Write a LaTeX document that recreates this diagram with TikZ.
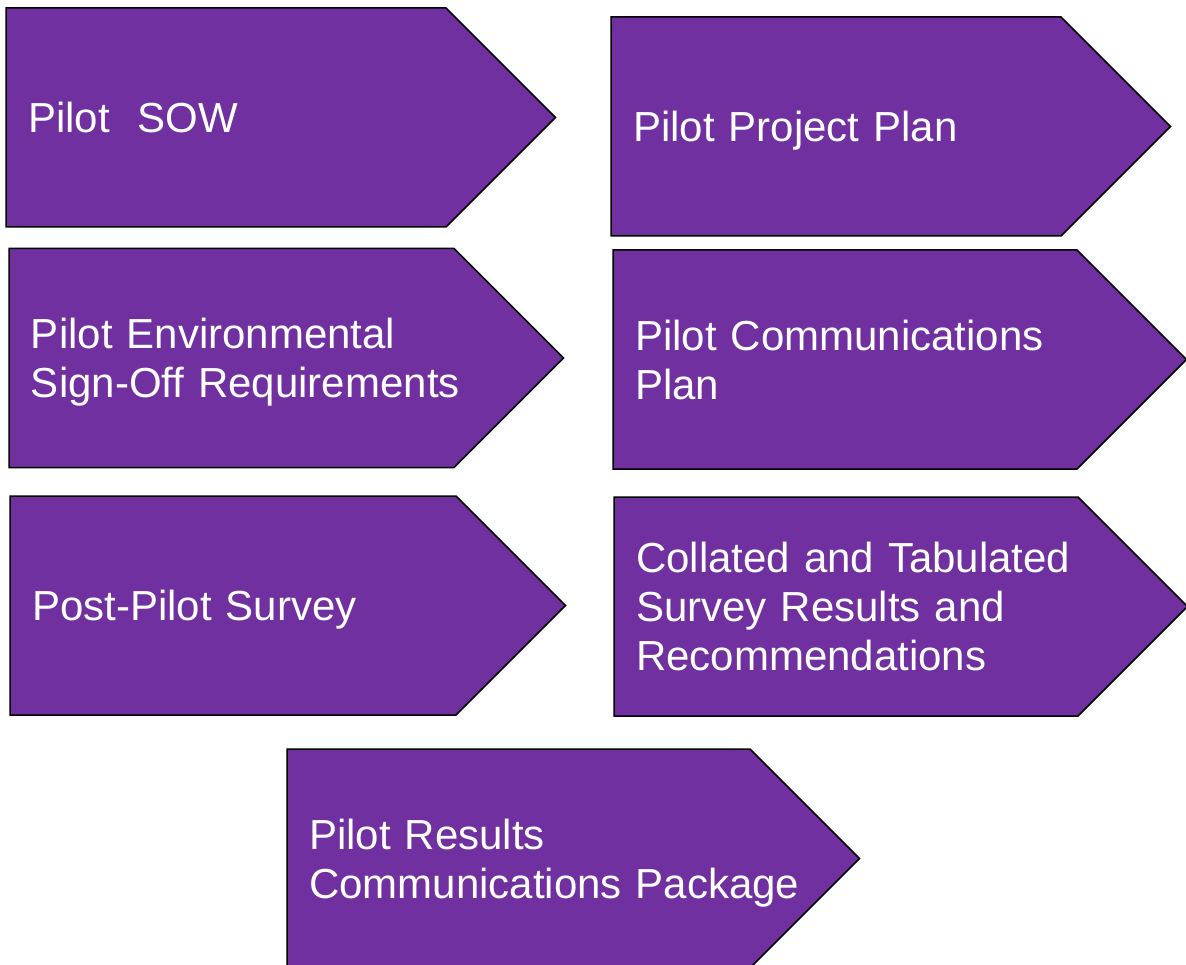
\documentclass[tikz,border=0pt]{standalone}
\usepackage{fontspec}
\setmainfont{Liberation Sans}
\usetikzlibrary{shapes.symbols}

\definecolor{pilotpurple}{HTML}{7030A0}

\tikzset{
deliverable/.style={signal, signal to=east, signal pointer angle=90,
  draw=black, line width=1.5pt, fill=pilotpurple, text=white,
  font=\fontsize{42}{49}\selectfont, align=left,
  inner xsep=0pt, inner ysep=0pt, minimum height=219pt, text width=#1,
  execute at begin node={\leftskip=22pt\rightskip=0pt plus 1fil minus 300pt},
  execute at end node={\par\kern-\prevdepth}}
}

\begin{document}
\begin{tikzpicture}[x=1pt,y=-1pt]
\useasboundingbox (0,0) rectangle (1186,965);

\node[deliverable=440pt] (sow) at (226,117.5) {Pilot~~SOW};
\node[deliverable=450pt] (projplan) at (836,126.5) {Pilot Project Plan};

\node[deliverable=445pt] (envreq) at (231.5,358) {Pilot Environmental\\Sign-Off Requirements};
\node[deliverable=464pt] (commplan) at (845,359.5) {Pilot Communications\\Plan};

\node[deliverable=446pt] (survey) at (233,605.5) {Post-Pilot Survey};
\node[deliverable=464pt] (results) at (846,606.5) {Collated and Tabulated\\Survey Results and\\Recommendations};

\node[deliverable=463pt] (package) at (518.5,858.5) {Pilot Results\\Communications Package};

\end{tikzpicture}
\end{document}
